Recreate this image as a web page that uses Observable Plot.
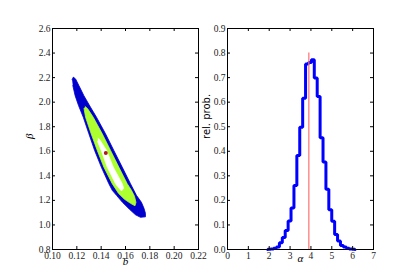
<!DOCTYPE html>
<html><head><meta charset="utf-8">
<script src="https://cdn.jsdelivr.net/npm/d3@7"></script>
<script src="https://cdn.jsdelivr.net/npm/@observablehq/plot@0.6"></script>
<style>
html,body{margin:0;padding:0;background:#fff;}
#wrap{position:relative;width:415px;height:277px;overflow:hidden;background:#fff;}
#wrap svg{position:absolute;left:0;top:0;}
#wrap svg text{font-family:"Liberation Serif","DejaVu Serif","Times New Roman",serif;}
#wrap svg .sanslabel text{font-family:"DejaVu Sans","Liberation Sans",sans-serif;}
</style></head><body><div id="wrap"></div>
<script>
// ---- left panel: confidence contours in (b, beta) ----
const outerB    = [0.1161,0.1171,0.1190,0.1217,0.1258,0.1313,0.1362,0.1436,0.1504,0.1573,0.1641,0.1690,0.1731,0.1752,0.1764,0.1764,0.1723,0.1682,0.1633,0.1575,0.1526,0.1491,0.1463,0.1401,0.1346,0.1299,0.1253,0.1214,0.1186,0.1167];
const outerBeta = [2.183,2.204,2.189,2.135,2.053,1.958,1.877,1.742,1.607,1.471,1.336,1.241,1.184,1.135,1.095,1.066,1.062,1.083,1.127,1.184,1.241,1.282,1.336,1.471,1.607,1.742,1.877,1.972,2.053,2.135];
const midB      = [0.1268,0.1288,0.1335,0.1409,0.1477,0.1545,0.1614,0.1649,0.1674,0.1686,0.1678,0.1641,0.1592,0.1543,0.1491,0.1422,0.1368,0.1318,0.1272,0.1259];
const midBeta   = [1.964,1.948,1.877,1.742,1.607,1.471,1.336,1.282,1.233,1.184,1.156,1.176,1.209,1.257,1.336,1.471,1.607,1.742,1.877,1.948];
const innerB    = [0.1374,0.1387,0.1444,0.1499,0.1573,0.1584,0.1567,0.1534,0.1518,0.1450,0.1401,0.1370];
const innerBeta = [1.704,1.696,1.607,1.471,1.336,1.298,1.277,1.314,1.336,1.471,1.607,1.680];
const bestB = [0.1438];
const bestBeta = [1.585];
const bTicks = [0.10,0.12,0.14,0.16,0.18,0.20,0.22];
const betaTicks = [0.8,1.0,1.2,1.4,1.6,1.8,2.0,2.2,2.4,2.6];

// ---- right panel: histogram of alpha ----
const alphaEdges = [1.931,2.070,2.210,2.349,2.489,2.628,2.767,2.907,3.046,3.186,3.325,3.464,3.604,3.743,3.883,4.022,4.161,4.301,4.440,4.580,4.719,4.858,4.998,5.137,5.277,5.416,5.555,5.695,5.834,5.974,6.113];
const relProb = [0.001,0.002,0.005,0.010,0.027,0.049,0.077,0.116,0.169,0.261,0.383,0.498,0.616,0.755,0.762,0.773,0.698,0.623,0.455,0.356,0.245,0.162,0.115,0.061,0.035,0.016,0.010,0.005,0.002,0.001];
const alphaTrue = [3.9];
const alphaTrueTop = 0.8;
const alphaTicks = [0,1,2,3,4,5,6,7];
const probTicks = [0.0,0.1,0.2,0.3,0.4,0.5,0.6,0.7,0.8,0.9];

const W = 415, H = 277, MT = 28, MB = 28;
const FH = H - MT - MB;
const TICK = 3;
const style = {fontSize: "9px", color: "#000", background: "transparent", overflow: "visible"};

const poly = (xs, ys) => xs.map((x, i) => ({x, y: ys[i]}));

function boxTicks(xt, yt, FW) {
  return [
    Plot.tickX(xt, {x: d => d, insetTop: FH - TICK, stroke: "#000"}),
    Plot.tickX(xt, {x: d => d, insetBottom: FH - TICK, stroke: "#000"}),
    Plot.tickY(yt, {y: d => d, insetRight: FW - TICK, stroke: "#000"}),
    Plot.tickY(yt, {y: d => d, insetLeft: FW - TICK, stroke: "#000"})
  ];
}

// left plot
const L_ML = 52, L_MR = 217, L_FW = W - L_ML - L_MR;
const left = Plot.plot({
  width: W, height: H,
  marginLeft: L_ML, marginRight: L_MR, marginTop: MT, marginBottom: MB,
  style,
  x: {domain: [0.10, 0.22]},
  y: {domain: [0.8, 2.6]},
  marks: [
    Plot.line(poly(outerB, outerBeta), {x: "x", y: "y", fill: "#0000cd", stroke: "#0000cd", strokeWidth: 0.8}),
    Plot.line(poly(midB, midBeta), {x: "x", y: "y", fill: "#adff2f", stroke: "#adff2f", strokeWidth: 0.8}),
    Plot.line(poly(innerB, innerBeta), {x: "x", y: "y", fill: "#ffffff", stroke: "#ffffff", strokeWidth: 0.8}),
    Plot.dot(bestB.map((b, i) => ({b, beta: bestBeta[i]})), {x: "b", y: "beta", r: 2, fill: "#b01a1a", stroke: null}),
    ...boxTicks(bTicks, betaTicks, L_FW),
    Plot.axisX(bTicks, {anchor: "bottom", tickSize: 0, tickPadding: 3, tickFormat: d => d.toFixed(2), label: null, fontSize: 9.5, fill: "#222"}),
    Plot.axisY(betaTicks, {anchor: "left", tickSize: 0, tickPadding: 2, tickFormat: d => d.toFixed(1), label: null, fontSize: 9.5, fill: "#222"}),
    Plot.text(["b"], {frameAnchor: "bottom", dy: 15, text: d => d, fontStyle: "italic", fontSize: 11}),
    Plot.text(["β"], {frameAnchor: "left", dx: -23, rotate: -90, text: d => d, fontStyle: "italic", fontSize: 11}),
    Plot.frame({stroke: "#000"})
  ]
});

// right plot
const R_ML = 227, R_MR = 42, R_FW = W - R_ML - R_MR;
const stepPts = [{x: alphaEdges[0], y: 0}]
  .concat(relProb.map((v, i) => ({x: alphaEdges[i], y: v})))
  .concat([{x: alphaEdges[alphaEdges.length - 1], y: 0}]);
const right = Plot.plot({
  width: W, height: H,
  marginLeft: R_ML, marginRight: R_MR, marginTop: MT, marginBottom: MB,
  style,
  x: {domain: [0, 7]},
  y: {domain: [0, 0.9]},
  marks: [
    Plot.line(stepPts, {x: "x", y: "y", curve: "step-after", stroke: "#0000ff", strokeWidth: 3, strokeLinejoin: "miter"}),
    Plot.ruleX(alphaTrue, {x: d => d, y1: 0, y2: alphaTrueTop, stroke: "#ff7070", strokeWidth: 1.2}),
    ...boxTicks(alphaTicks, probTicks, R_FW),
    Plot.axisX(alphaTicks, {anchor: "bottom", tickSize: 0, tickPadding: 3, tickFormat: d => String(d), label: null, fontSize: 9.5, fill: "#222"}),
    Plot.axisY(probTicks, {anchor: "left", tickSize: 0, tickPadding: 2, tickFormat: d => d.toFixed(1), label: null, fontSize: 9.5, fill: "#222"}),
    Plot.text(["α"], {frameAnchor: "bottom", dy: 12.5, text: d => d, fontStyle: "italic", fontSize: 11}),
    Plot.text(["rel. prob."], {frameAnchor: "left", dx: -21, rotate: -90, text: d => d, fontSize: 10, className: "sanslabel"}),
    Plot.frame({stroke: "#000"})
  ]
});

const wrap = document.getElementById("wrap");
wrap.appendChild(left);
wrap.appendChild(right);
</script>
</body></html>
